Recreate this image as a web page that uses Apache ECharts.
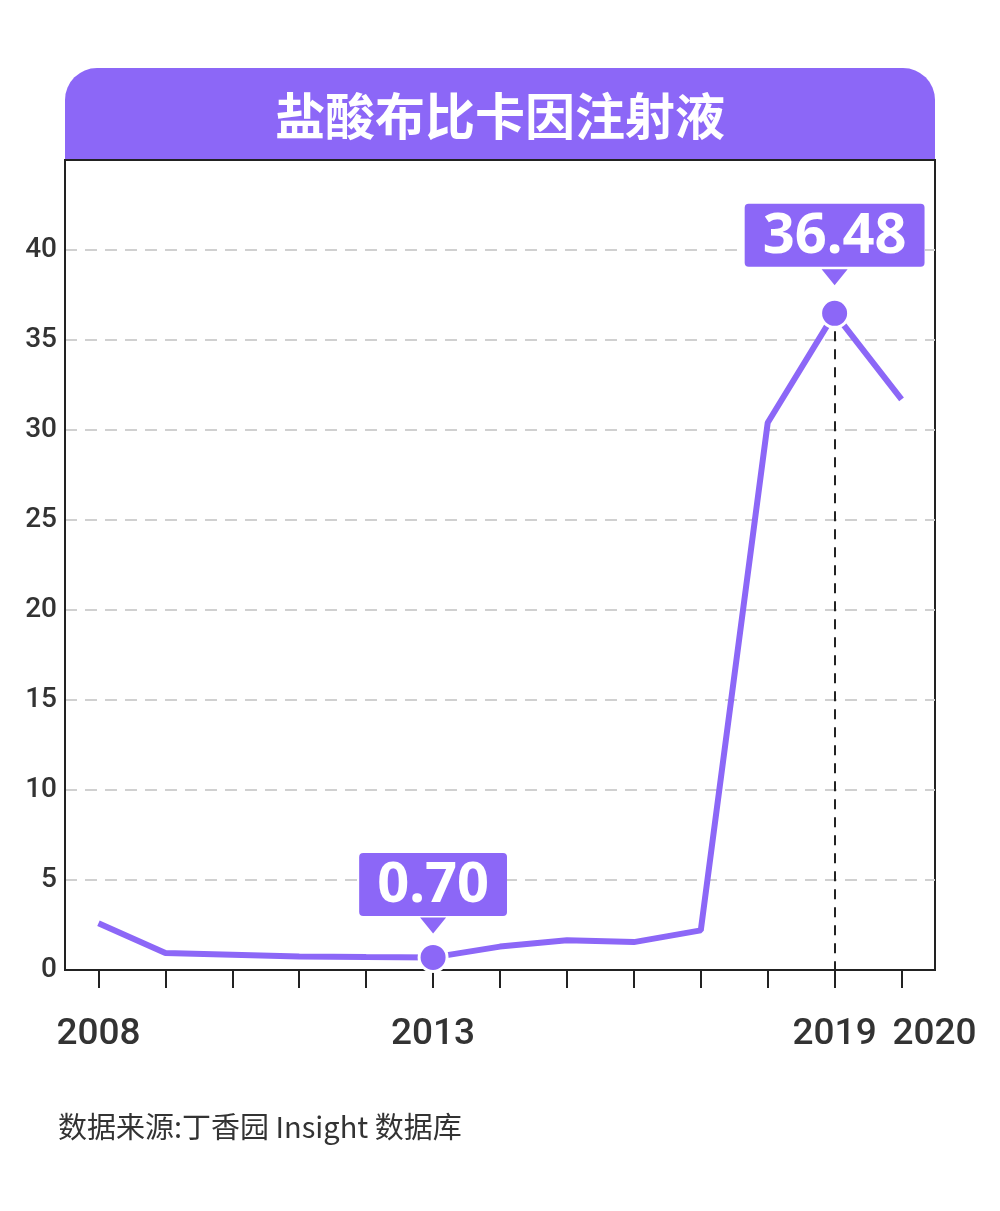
<!DOCTYPE html>
<html>
<head>
<meta charset="utf-8">
<script src="https://cdn.jsdelivr.net/npm/echarts@6/dist/echarts.min.js"></script>
<style>
  html, body { margin: 0; padding: 0; background: #fff; }
  #chart { width: 1000px; height: 1211px; }
</style>
</head>
<body>
<div id="chart"></div>
<script>
var years = ['2008', '2009', '2010', '2011', '2012', '2013', '2014', '2015', '2016', '2017', '2018', '2019', '2020'];
var values = [2.6, 0.95, 0.85, 0.75, 0.72, 0.70, 1.3, 1.65, 1.55, 2.2, 30.4, 36.48, 31.7];
var shownYears = ['2008', '2013', '2019', '2020'];
var highlights = { '2013': '0.70', '2019': '36.48' };

var purple = '#8C67F7';

var myChart = echarts.init(document.getElementById('chart'));

// points with a marker and a boxed label
var seriesData = values.map(function (v, i) {
  var y = years[i];
  if (!highlights[y]) return v;
  return {
    value: v,
    symbol: 'circle',
    symbolSize: 28,
    itemStyle: { color: purple, borderColor: '#fff', borderWidth: 3 },
    label: {
      show: true,
      position: 'top',
      distance: y === '2019' ? 31 : 26,
      formatter: highlights[y],
      color: '#fff',
      fontSize: 56,
      fontWeight: 'bold',
      fontFamily: 'Noto Sans',
      backgroundColor: purple,
      borderRadius: 4,
      padding: [3, 18, 0, 18],
      lineHeight: 60
    }
  };
});

var option = {
  backgroundColor: '#fff',
  animation: false,
  graphic: [
    {
      type: 'rect',
      shape: { x: 65, y: 68, width: 870, height: 93, r: [32, 32, 0, 0] },
      style: { fill: purple },
      z: 0
    },
    {
      type: 'line',
      shape: { x1: 65, y1: 160, x2: 935, y2: 160 },
      style: { stroke: '#222', lineWidth: 2 },
      z: 100
    },
    {
      type: 'text',
      x: 500, y: 116,
      style: {
        text: '盐酸布比卡因注射液',
        fill: '#fff',
        font: 'bold 50px "Noto Sans CJK SC"',
        textAlign: 'center',
        textVerticalAlign: 'middle'
      }
    },
    {
      type: 'text',
      x: 58, y: 1127,
      style: {
        text: '数据来源:丁香园 Insight 数据库',
        fill: '#333',
        font: '29px "Noto Sans CJK SC"',
        textVerticalAlign: 'middle'
      }
    }
  ],
  grid: {
    left: 65, right: 65, top: 160, bottom: 241,
    show: true,
    borderColor: '#222',
    borderWidth: 2,
    backgroundColor: 'transparent'
  },
  xAxis: {
    type: 'category',
    data: years,
    boundaryGap: true,
    axisLine: { show: true, lineStyle: { color: '#222', width: 2 } },
    axisTick: {
      show: true,
      alignWithLabel: true,
      interval: 0,
      length: 18,
      lineStyle: { color: '#222', width: 2 }
    },
    axisLabel: {
      interval: 0,
      margin: 46,
      color: '#333',
      fontSize: 37,
      fontWeight: 500,
      fontFamily: 'Roboto',
      formatter: function (v) {
        if (v === '2020') return '{r|' + v + '}';
        return shownYears.indexOf(v) >= 0 ? v : '';
      },
      rich: {
        r: { fontSize: 37, fontWeight: 500, fontFamily: 'Roboto', color: '#333', padding: [0, 0, 0, 66] }
      }
    }
  },
  yAxis: {
    type: 'value',
    min: 0,
    max: 45,
    interval: 5,
    axisLine: { show: true, lineStyle: { color: '#222', width: 2 } },
    axisTick: { show: false },
    splitLine: { lineStyle: { color: '#d0d0d0', type: [12, 8], width: 2 } },
    axisLabel: {
      margin: 8,
      color: '#333',
      fontSize: 28,
      fontWeight: 500,
      fontFamily: 'Roboto',
      formatter: function (v) { return v === 45 ? '' : v; }
    }
  },
  series: [
    {
      type: 'line',
      data: seriesData,
      symbol: 'none',
      lineStyle: { color: purple, width: 6 },
      itemStyle: { color: purple },
      z: 3,
      markLine: {
        silent: true,
        symbol: 'none',
        label: { show: false },
        lineStyle: { color: '#222', type: [10, 8], width: 2 },
        data: [[{ coord: ['2019', 36.48] }, { coord: ['2019', 0] }]],
        z: 1
      },
      markPoint: {
        silent: true,
        symbol: 'triangle',
        symbolRotate: 180,
        symbolSize: [26, 16],
        itemStyle: { color: purple },
        label: { show: false },
        data: [
          { coord: ['2013', 0.70], symbolOffset: [0, -32] },
          { coord: ['2019', 36.48], symbolOffset: [0, -36] }
        ]
      }
    }
  ]
};

myChart.setOption(option);
</script>
</body>
</html>
